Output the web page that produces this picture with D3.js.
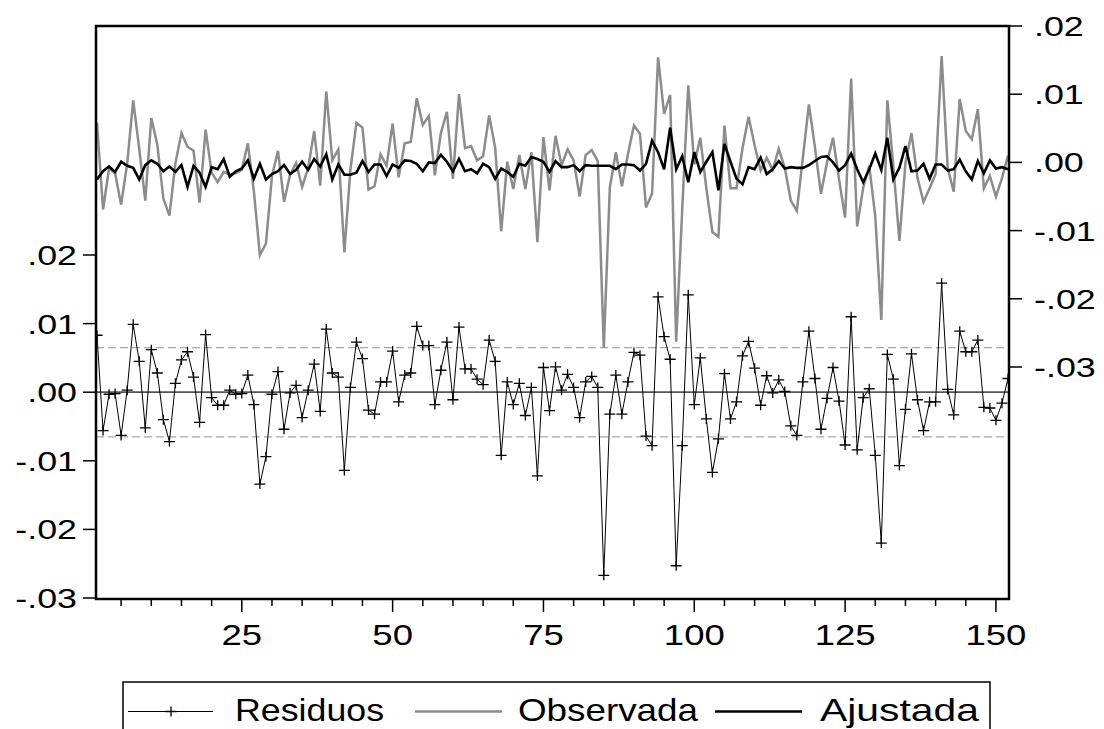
<!DOCTYPE html>
<html>
<head>
<meta charset="utf-8">
<script src="https://d3js.org/d3.v7.min.js"></script>
<style>
  body { margin: 0; background: #fff; }
  text { font-family: "Liberation Sans", Arial, sans-serif; fill: #000; }
</style>
</head>
<body>
<script>
// data (obs 1..152)
const residuos = [
  0.0083,-0.0056,-0.0003,-0.0002,-0.0063,0.0003,0.0099,0.0045,-0.0052,0.0062,
  0.0028,-0.0040,-0.0072,0.0013,0.0047,0.0059,0.0022,-0.0044,0.0084,-0.0008,
  -0.0019,-0.0019,0.0003,-0.0003,-0.0002,0.0025,-0.0018,-0.0134,-0.0094,-0.0003,
  0.0030,-0.0054,-0.0001,0.0010,-0.0037,0.0003,0.0041,-0.0028,0.0092,0.0028,
  0.0022,-0.0114,0.0007,0.0073,0.0049,-0.0026,-0.0032,0.0015,0.0015,0.0060,
  -0.0014,0.0025,0.0028,0.0096,0.0068,0.0068,-0.0018,0.0032,0.0073,-0.0011,
  0.0095,0.0034,0.0034,0.0019,0.0011,0.0076,0.0045,-0.0092,0.0015,-0.0018,
  0.0013,-0.0034,0.0007,-0.0122,0.0036,-0.0027,0.0037,0.0003,0.0026,0.0007,
  -0.0037,0.0015,0.0023,0.0007,-0.0267,-0.0032,0.0025,-0.0032,0.0015,0.0058,
  0.0054,-0.0064,-0.0078,0.0139,0.0081,0.0048,-0.0253,-0.0078,0.0142,-0.0018,
  0.0050,-0.0039,-0.0117,-0.0068,0.0027,-0.0039,-0.0014,0.0053,0.0074,0.0035,
  -0.0019,0.0024,-0.0001,0.0018,0.0001,-0.0049,-0.0063,0.0015,0.0089,0.0020,
  -0.0054,-0.0009,0.0036,-0.0013,-0.0077,0.0110,-0.0084,-0.0008,0.0005,-0.0092,
  -0.0220,0.0055,0.0019,-0.0107,-0.0025,0.0056,-0.0011,-0.0056,-0.0014,-0.0014,
  0.0159,0.0004,-0.0033,0.0089,0.0059,0.0059,0.0076,-0.0022,-0.0023,-0.0041,
  -0.0016,0.0020
];

const observada = [
  0.0058,-0.0069,-0.0009,-0.0016,-0.0062,-0.0002,0.0091,0.0020,-0.0056,0.0065,
  0.0026,-0.0053,-0.0078,-0.0001,0.0043,0.0023,0.0017,-0.0059,0.0048,-0.0015,
  -0.0029,-0.0014,-0.0018,-0.0016,-0.0011,0.0028,-0.0042,-0.0136,-0.0119,-0.0020,
  0.0017,-0.0058,-0.0018,-0.0001,-0.0036,-0.0008,0.0046,-0.0034,0.0104,0.0003,
  0.0019,-0.0132,-0.0011,0.0058,0.0051,-0.0040,-0.0035,0.0012,-0.0005,0.0057,
  -0.0022,0.0028,0.0030,0.0094,0.0055,0.0068,-0.0019,0.0043,0.0074,-0.0024,
  0.0100,0.0021,0.0024,0.0003,0.0009,0.0069,0.0021,-0.0101,0.0001,-0.0039,
  0.0011,-0.0039,0.0015,-0.0117,0.0037,-0.0041,0.0039,-0.0004,0.0019,0.0003,
  -0.0050,0.0011,0.0018,0.0002,-0.0272,-0.0037,0.0015,-0.0035,0.0012,0.0054,
  0.0042,-0.0066,-0.0046,0.0154,0.0071,0.0099,-0.0263,-0.0069,0.0113,-0.0003,
  0.0036,-0.0038,-0.0102,-0.0109,0.0054,-0.0038,-0.0038,0.0021,0.0067,0.0025,
  -0.0012,0.0007,-0.0011,0.0020,-0.0008,-0.0056,-0.0071,0.0007,0.0085,0.0022,
  -0.0046,0.0000,0.0036,-0.0025,-0.0081,0.0123,-0.0094,-0.0037,-0.0005,-0.0079,
  -0.0231,0.0091,-0.0006,-0.0115,-0.0001,0.0043,-0.0023,-0.0058,-0.0038,-0.0017,
  0.0156,-0.0008,-0.0043,0.0093,0.0046,0.0034,0.0078,-0.0038,-0.0020,-0.0050,
  -0.0023,0.0010
];

const ajustada = [
  -0.0025,-0.0013,-0.0006,-0.0014,0.0001,-0.0005,-0.0008,-0.0025,-0.0004,0.0003,
  -0.0002,-0.0013,-0.0006,-0.0014,-0.0004,-0.0036,-0.0005,-0.0015,-0.0036,-0.0007,
  -0.0010,0.0005,-0.0021,-0.0013,-0.0009,0.0003,-0.0024,-0.0002,-0.0025,-0.0017,
  -0.0013,-0.0004,-0.0017,-0.0011,0.0001,-0.0011,0.0005,-0.0006,0.0012,-0.0025,
  -0.0003,-0.0018,-0.0018,-0.0015,0.0002,-0.0014,-0.0003,-0.0003,-0.0020,-0.0003,
  -0.0008,0.0003,0.0002,-0.0002,-0.0013,0.0000,-0.0001,0.0011,0.0001,-0.0013,
  0.0005,-0.0013,-0.0010,-0.0016,-0.0002,-0.0007,-0.0024,-0.0009,-0.0014,-0.0021,
  -0.0002,-0.0005,0.0008,0.0005,0.0001,-0.0014,0.0002,-0.0007,-0.0007,-0.0004,
  -0.0013,-0.0004,-0.0005,-0.0005,-0.0005,-0.0005,-0.0010,-0.0003,-0.0003,-0.0004,
  -0.0012,-0.0002,0.0032,0.0015,-0.0010,0.0051,-0.0010,0.0009,-0.0029,0.0015,
  -0.0014,0.0001,0.0015,-0.0041,0.0027,0.0001,-0.0024,-0.0032,-0.0007,-0.0010,
  0.0007,-0.0017,-0.0010,0.0002,-0.0009,-0.0007,-0.0008,-0.0008,-0.0004,0.0002,
  0.0008,0.0009,0.0000,-0.0012,-0.0004,0.0013,-0.0010,-0.0029,-0.0010,0.0013,
  -0.0011,0.0036,-0.0025,-0.0008,0.0024,-0.0013,-0.0012,-0.0002,-0.0024,-0.0003,
  -0.0003,-0.0012,-0.0010,0.0004,-0.0013,-0.0025,0.0002,-0.0016,0.0003,-0.0009,
  -0.0007,-0.0010
];

const periodos = residuos.map((d, i) => i + 1);
const ticksResid = [-0.03, -0.02, -0.01, 0.00, 0.01, 0.02];
const ticksNivel = [-0.03, -0.02, -0.01, 0.00, 0.01, 0.02];
const ticksX = [25, 50, 75, 100, 125, 150];
const errorEstandar = 0.0065;
const nombres = ["Residuos", "Observada", "Ajustada"];

// layout
const W = 1104, H = 729;
const plot = { left: 96, right: 1009, top: 26, bottom: 599 };

const svg = d3.select("body").append("svg")
    .attr("width", W)
    .attr("height", H);

const x = d3.scaleLinear().domain([1, 152]).range([97, 1008]);
const yL = d3.scaleLinear().domain([-0.03, 0.02]).range([598, 255]);
const yR = d3.scaleLinear().domain([-0.03, 0.02]).range([367, 26]);

const fmt = v => (v < 0 ? "-" : "") + "." + String(Math.round(Math.abs(v) * 100)).padStart(2, "0");

svg.append("defs").append("clipPath").attr("id", "clip")
  .append("rect")
    .attr("x", plot.left).attr("y", plot.top)
    .attr("width", plot.right - plot.left).attr("height", plot.bottom - plot.top);

const g = svg.append("g").attr("clip-path", "url(#clip)");

// +/- 1 S.E. band and zero line
g.selectAll(".banda")
  .data([errorEstandar, -errorEstandar])
  .join("line")
    .attr("x1", plot.left).attr("x2", plot.right)
    .attr("y1", d => yL(d)).attr("y2", d => yL(d))
    .attr("stroke", "#a8a8a8")
    .attr("stroke-width", 1.3)
    .attr("stroke-dasharray", "8,4");

g.append("line")
    .attr("x1", plot.left).attr("x2", plot.right)
    .attr("y1", yL(0)).attr("y2", yL(0))
    .attr("stroke", "#555")
    .attr("stroke-width", 1.8);

// residuals
g.append("path")
    .datum(residuos)
    .attr("fill", "none")
    .attr("stroke", "#000")
    .attr("stroke-width", 1)
    .attr("d", d3.line().x((d, i) => x(periodos[i])).y(d => yL(d)));

g.selectAll(".mark")
  .data(residuos)
  .join("path")
    .attr("class", "mark")
    .attr("transform", (d, i) => `translate(${x(periodos[i])},${yL(d)})`)
    .attr("d", "M-5.5,0H5.5M0,-5V5")
    .attr("stroke", "#000")
    .attr("stroke-width", 1.3);

// actual and fitted
g.append("path")
    .datum(observada)
    .attr("fill", "none")
    .attr("stroke", "#8c8c8c")
    .attr("stroke-width", 2.5)
    .attr("d", d3.line().x((d, i) => x(periodos[i])).y(d => yR(d)));

g.append("path")
    .datum(ajustada)
    .attr("fill", "none")
    .attr("stroke", "#000")
    .attr("stroke-width", 2.6)
    .attr("d", d3.line().x((d, i) => x(periodos[i])).y(d => yR(d)));

// frame
svg.append("rect")
    .attr("x", plot.left).attr("y", plot.top)
    .attr("width", plot.right - plot.left).attr("height", plot.bottom - plot.top)
    .attr("fill", "none")
    .attr("stroke", "#000")
    .attr("stroke-width", 2.5);

// left axis
svg.selectAll(".tl")
  .data(ticksResid)
  .join("line")
    .attr("x1", plot.left - 13).attr("x2", plot.left)
    .attr("y1", d => yL(d)).attr("y2", d => yL(d))
    .attr("stroke", "#000").attr("stroke-width", 1.5);

svg.selectAll(".ll")
  .data(ticksResid)
  .join("text")
    .attr("transform", d => `translate(77,${yL(d) + 10}) scale(1.28,1)`)
    .attr("text-anchor", "end")
    .attr("font-size", 28)
    .text(fmt);

// right axis
svg.selectAll(".tr")
  .data(ticksNivel)
  .join("line")
    .attr("x1", plot.right).attr("x2", plot.right + 13)
    .attr("y1", d => yR(d)).attr("y2", d => yR(d))
    .attr("stroke", "#000").attr("stroke-width", 1.5);

svg.selectAll(".rl")
  .data(ticksNivel)
  .join("text")
    .attr("transform", d => `translate(1034,${yR(d) + 10}) scale(1.28,1)`)
    .attr("text-anchor", "start")
    .attr("font-size", 28)
    .text(fmt);

// bottom axis
const minor = d3.range(5, 152, 5).filter(v => v % 25 !== 0);
svg.selectAll(".tm")
  .data(minor)
  .join("line")
    .attr("x1", d => x(d)).attr("x2", d => x(d))
    .attr("y1", plot.bottom).attr("y2", plot.bottom + 7)
    .attr("stroke", "#000").attr("stroke-width", 1.5);

svg.selectAll(".tM")
  .data(ticksX)
  .join("line")
    .attr("x1", d => x(d)).attr("x2", d => x(d))
    .attr("y1", plot.bottom).attr("y2", plot.bottom + 13)
    .attr("stroke", "#000").attr("stroke-width", 1.5);

svg.selectAll(".xl")
  .data(ticksX)
  .join("text")
    .attr("transform", d => `translate(${x(d)},645) scale(1.26,1)`)
    .attr("text-anchor", "middle")
    .attr("font-size", 29)
    .text(d => d);

// legend
const leg = svg.append("g");
leg.append("rect")
    .attr("x", 123).attr("y", 682)
    .attr("width", 867).attr("height", 70)
    .attr("fill", "none")
    .attr("stroke", "#000")
    .attr("stroke-width", 1.5);

const items = [
  { x0: 128, x1: 213, tx: 235, tw: 149, color: "#000", sw: 1, mark: true },
  { x0: 415, x1: 502, tx: 518, tw: 180, color: "#8c8c8c", sw: 2.5, mark: false },
  { x0: 715, x1: 802, tx: 820, tw: 159, color: "#000", sw: 2.6, mark: false }
];

items.forEach((it, i) => {
  leg.append("line")
      .attr("x1", it.x0).attr("x2", it.x1)
      .attr("y1", 711.5).attr("y2", 711.5)
      .attr("stroke", it.color).attr("stroke-width", it.sw);
  if (it.mark) {
    leg.append("path")
        .attr("transform", `translate(${(it.x0 + it.x1) / 2 + 0.5},711.5)`)
        .attr("d", "M-5.5,0H5.5M0,-5V5")
        .attr("stroke", "#000").attr("stroke-width", 1.3);
  }
  leg.append("text")
      .attr("x", it.tx).attr("y", 721)
      .attr("font-size", 32)
      .attr("textLength", it.tw)
      .attr("lengthAdjust", "spacingAndGlyphs")
      .text(nombres[i]);
});
</script>
</body>
</html>
